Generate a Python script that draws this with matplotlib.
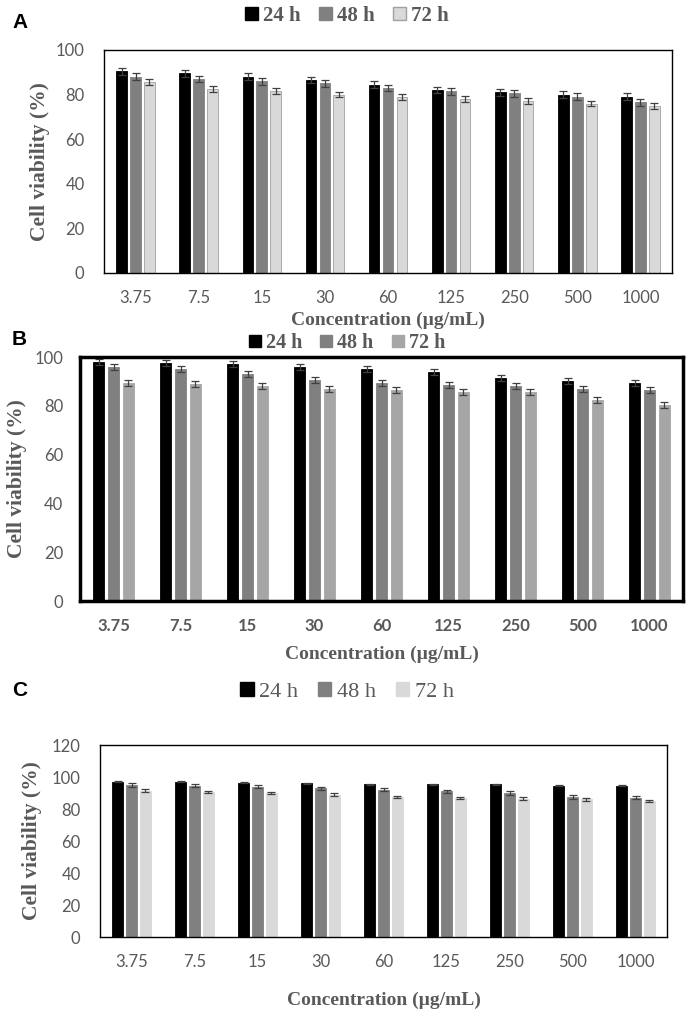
import numpy as np
import matplotlib
matplotlib.use("Agg")
import matplotlib.pyplot as plt
from matplotlib.patches import Patch

# data
conc = ["3.75", "7.5", "15", "30", "60", "125", "250", "500", "1000"]
series = ["24 h", "48 h", "72 h"]

a_24 = [90.5, 89.5, 88, 86.5, 84.5, 82, 81, 80, 79]
a_48 = [88, 87, 86, 85, 83, 81.5, 80.5, 79, 76.5]
a_72 = [85.5, 82.5, 81.5, 80, 79, 78, 77, 76, 75]
a_err = [1.5, 1.5, 1.3]

b_24 = [98, 97.5, 97, 96, 95, 94, 91.5, 90, 89.5]
b_48 = [96, 95, 93, 90.5, 89.5, 88.5, 88, 87, 86.5]
b_72 = [89.5, 89, 88, 87, 86.5, 85.5, 85.5, 82.5, 80.5]
b_err = [1.2, 1.2, 1.2]

c_24 = [97, 97, 96.5, 96, 95.5, 95.5, 95.5, 94.5, 94.5]
c_48 = [95, 94.5, 94, 93, 92, 91, 90, 87.5, 87]
c_72 = [91.5, 90.5, 90, 89, 87.5, 87, 86.5, 86, 85]
c_err = [0.3, 1.0, 0.8]

grey_txt = "#595959"
tick_font = ["Lato", "DejaVu Sans"]
serif = ["Liberation Serif", "DejaVu Serif"]

fig = plt.figure(figsize=(6.94, 10.14), dpi=100)
W, H = 694, 1014


def box(l, t, r, b):
    return [l / W, 1 - b / H, (r - l) / W, (b - t) / H]


def panel(px, vals, errs, colors, ymax, lw, letter, letter_y, leg_y, leg_bold, edge72, bold_x,
          ylab_x, ypad, xlpad, leg_size):
    l, t, r, b = px
    ax = fig.add_axes(box(l, t, r, b))
    x = np.arange(len(conc))
    offs = [-0.22, 0.0, 0.22]
    for i, (v, c) in enumerate(zip(vals, colors)):
        ec = edge72 if i == 2 else c
        ax.bar(x + offs[i], v, width=0.17, color=c, edgecolor=ec, linewidth=0.6,
               yerr=errs[i], error_kw=dict(ecolor="#404040", elinewidth=0.9, capsize=3, capthick=0.9),
               zorder=2)
    ax.set_xlim(-0.5, len(conc) - 0.5)
    ax.set_ylim(0, ymax)
    ax.set_yticks(np.arange(0, ymax + 1, 20))
    ax.set_xticks(x)
    ax.set_xticklabels(conc)
    ax.tick_params(axis="x", length=0, pad=12, labelsize=12, labelcolor=grey_txt)
    ax.tick_params(axis="y", length=0, pad=ypad, labelsize=12, labelcolor=grey_txt)
    for lab in ax.get_xticklabels() + ax.get_yticklabels():
        lab.set_family(tick_font)
    if bold_x:
        for lab in ax.get_xticklabels():
            lab.set_fontweight("bold")
    for s in ax.spines.values():
        s.set_linewidth(lw)
        s.set_color("black")
    ax.set_ylabel("Cell viability (%)", family=serif, fontweight="bold", fontsize=15.5,
                  color=grey_txt, va="center")
    ax.yaxis.set_label_coords((ylab_x - l) / (r - l), 0.5)
    ax.set_xlabel("Concentration (\u00b5g/mL)", family=serif, fontweight="bold", fontsize=14,
                  color=grey_txt, labelpad=xlpad)
    handles = [Patch(facecolor=c, edgecolor=(edge72 if i == 2 else c)) for i, c in enumerate(colors)]
    fig.legend(handles, series, loc="center", bbox_to_anchor=(0.5, 1 - leg_y / H), ncol=3,
               frameon=False, handlelength=0.6, handleheight=0.6, handletextpad=0.25,
               columnspacing=0.9, borderpad=0.1,
               prop=dict(family=serif, weight="bold" if leg_bold else "normal", size=leg_size),
               labelcolor=grey_txt)
    fig.text(12 / W, 1 - letter_y / H, letter, fontsize=15, fontweight="bold",
             family=["Liberation Sans", "DejaVu Sans"], va="center")
    return ax


panel((104, 50, 672, 273), [a_24, a_48, a_72], a_err,
      ["black", "#808080", "#d9d9d9"], 100, 1.0, "A", 22, 16, True, "#a0a0a0", False,
      40, 14, 4, 15)
panel((80, 357, 683, 601), [b_24, b_48, b_72], b_err,
      ["black", "#808080", "#a6a6a6"], 100, 2.5, "B", 340, 343, True, "#a6a6a6", True,
      17, 12, 9, 14.5)
panel((100, 745, 667, 937), [c_24, c_48, c_72], c_err,
      ["black", "#808080", "#d9d9d9"], 120, 1.0, "C", 690, 692, False, "#d9d9d9", False,
      32, 14, 16, 16)

fig.savefig("out.png", dpi=100)
